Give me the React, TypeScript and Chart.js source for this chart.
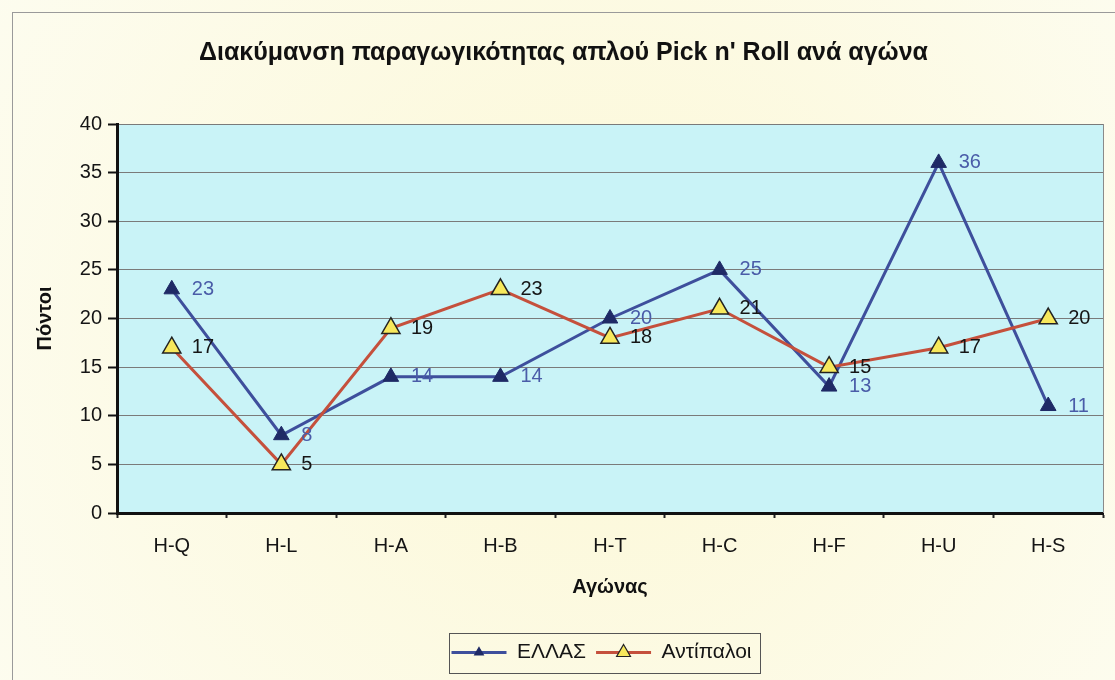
import { useEffect, useRef } from "react";
import { Chart, registerables } from "chart.js";

Chart.register(...registerables);

const categories = ["H-Q", "H-L", "H-A", "H-B", "H-T", "H-C", "H-F", "H-U", "H-S"];
const ellasValues = [23, 8, 14, 14, 20, 25, 13, 36, 11];
const opponentValues = [17, 5, 19, 23, 18, 21, 15, 17, 20];
const seriesNames = ["ΕΛΛΑΣ", "Αντίπαλοι"];
const yMin = 0;
const yMax = 40;
const yStep = 5;
const chartTitle = "Διακύμανση παραγωγικότητας απλού Pick n' Roll ανά αγώνα";
const xTitle = "Αγώνας";
const yTitle = "Πόντοι";

const FONT = "Arial, 'Liberation Sans', sans-serif";
const BLUE_LINE = "#3e4f9c";
const BLUE_MARK = "#1f2a66";
const BLUE_LABEL = "#4a5ca8";
const RED_LINE = "#c5503c";
const YELLOW = "#f7e85c";
const LEGEND_LINE = 55;

const backgroundPlugin = {
  id: "bgPlugin",
  afterLayout(chart: any) {
    const lg = chart.legend;
    if (lg) {
      lg.left += 38;
      lg.right += 38;
    }
  },
  beforeDraw(chart: any) {
    const { ctx, width, height, chartArea } = chart;
    ctx.save();
    const g = ctx.createRadialGradient(width * 0.55, height * 0.5, 50, width * 0.5, height * 0.5, width * 0.7);
    g.addColorStop(0, "#fcf8d8");
    g.addColorStop(1, "#fdfdf3");
    ctx.fillStyle = g;
    ctx.fillRect(0, 0, width, height);
    ctx.strokeStyle = "#9a9a9a";
    ctx.lineWidth = 1;
    ctx.strokeRect(12.5, 12.5, width + 20, height + 20);
    ctx.fillStyle = "#c9f3f7";
    ctx.fillRect(chartArea.left, chartArea.top, chartArea.right - chartArea.left, chartArea.bottom - chartArea.top);
    ctx.restore();
  },
  beforeDatasetsDraw(chart: any) {
    const { ctx, chartArea } = chart;
    ctx.save();
    ctx.strokeStyle = "#8a8a8a";
    ctx.lineWidth = 1;
    ctx.beginPath();
    ctx.moveTo(chartArea.right + 0.5, chartArea.top);
    ctx.lineTo(chartArea.right + 0.5, chartArea.bottom);
    ctx.stroke();
    ctx.restore();
  },
  afterDatasetsDraw(chart: any) {
    const { ctx } = chart;
    ctx.save();
    ctx.font = "20px " + FONT;
    ctx.textAlign = "left";
    ctx.textBaseline = "middle";
    chart.data.datasets.forEach((ds: any, i: number) => {
      const meta = chart.getDatasetMeta(i);
      ctx.fillStyle = i === 0 ? BLUE_LABEL : "#151515";
      meta.data.forEach((pt: any, j: number) => {
        ctx.fillText(String(ds.data[j]), pt.x + 20, pt.y);
      });
    });
    ctx.restore();
  },
  afterDraw(chart: any) {
    const { ctx } = chart;
    const legend = chart.legend;
    if (!legend || !legend.legendHitBoxes || !legend.legendHitBoxes.length) return;
    const boxes = legend.legendHitBoxes;
    ctx.save();
    boxes.forEach((hb: any, i: number) => {
      const cx = hb.left + LEGEND_LINE / 2;
      const cy = hb.top + 10.5;
      const r = i === 0 ? 5 : 8;
      ctx.beginPath();
      ctx.moveTo(cx, cy - r);
      ctx.lineTo(cx + r * 0.866, cy + r * 0.5);
      ctx.lineTo(cx - r * 0.866, cy + r * 0.5);
      ctx.closePath();
      ctx.fillStyle = i === 0 ? BLUE_MARK : YELLOW;
      ctx.fill();
      ctx.lineWidth = 1.2;
      ctx.strokeStyle = i === 0 ? BLUE_MARK : "#222";
      ctx.stroke();
    });
    const first = boxes[0];
    const last = boxes[boxes.length - 1];
    const left = first.left - 3;
    const right = last.left + last.width + 8;
    const top = first.top - 9;
    const bottom = first.top + 31;
    ctx.strokeStyle = "#555";
    ctx.lineWidth = 1;
    ctx.strokeRect(Math.round(left) + 0.5, Math.round(top) + 0.5, Math.round(right - left), Math.round(bottom - top));
    ctx.restore();
  },
};

export default function App() {
  const canvasRef = useRef<HTMLCanvasElement | null>(null);

  useEffect(() => {
    document.body.style.margin = "0";
    const canvas = canvasRef.current;
    if (!canvas) return;
    const chart = new Chart(canvas, {
      type: "line",
      data: {
        labels: categories,
        datasets: [
          {
            label: seriesNames[0],
            data: ellasValues,
            borderColor: BLUE_LINE,
            borderWidth: 3,
            pointStyle: "triangle",
            pointRadius: 9,
            pointBackgroundColor: BLUE_MARK,
            pointBorderColor: BLUE_MARK,
            pointBorderWidth: 1,
            tension: 0,
            order: 1,
          },
          {
            label: seriesNames[1],
            data: opponentValues,
            borderColor: RED_LINE,
            borderWidth: 3,
            pointStyle: "triangle",
            pointRadius: 10.5,
            pointBackgroundColor: YELLOW,
            pointBorderColor: "#222",
            pointBorderWidth: 1.5,
            tension: 0,
            order: 0,
          },
        ],
      },
      plugins: [backgroundPlugin],
      options: {
        responsive: false,
        animation: false,
        events: [],
        layout: { padding: { left: 20, right: 8, top: 0, bottom: 7 } },
        plugins: {
          tooltip: { enabled: false },
          title: {
            display: true,
            text: chartTitle,
            color: "#111",
            font: { family: FONT, size: 25, weight: "bold" },
            padding: { top: 38, bottom: 56 },
          },
          legend: {
            display: true,
            position: "bottom",
            labels: {
              usePointStyle: true,
              pointStyle: "line",
              pointStyleWidth: LEGEND_LINE,
              color: "#151515",
              font: { family: FONT, size: 21 },
              padding: 10,
              sort: (a: any, b: any) => a.datasetIndex - b.datasetIndex,
              generateLabels: (chart: any) => {
                const items = (Chart as any).defaults.plugins.legend.labels.generateLabels(chart);
                return items.map((it: any) => {
                  const ds = chart.data.datasets[it.datasetIndex];
                  return { ...it, strokeStyle: ds.borderColor, fillStyle: ds.borderColor, lineWidth: 3, pointStyle: "line" };
                });
              },
            },
          },
        },
        scales: {
          x: {
            type: "category",
            offset: true,
            grid: {
              display: true,
              drawOnChartArea: false,
              drawTicks: true,
              tickLength: 5,
              offset: true,
              tickColor: "#222",
              tickWidth: 2,
            },
            border: { display: true, color: "#111", width: 3 },
            ticks: { color: "#151515", font: { family: FONT, size: 20 }, padding: 16, maxRotation: 0, autoSkip: false },
            title: {
              display: true,
              text: xTitle,
              color: "#111",
              font: { family: FONT, size: 20, weight: "bold" },
              padding: { top: 0, bottom: 33 },
            },
            afterFit(scale: any) {
              scale.height = 119;
            },
          },
          y: {
            min: yMin,
            max: yMax,
            ticks: { stepSize: yStep, color: "#151515", font: { family: FONT, size: 20 }, padding: 6 },
            grid: { color: "#7a7a7a", lineWidth: 1, tickColor: "#111", tickLength: 9, tickWidth: 2 },
            border: { display: true, color: "#111", width: 3 },
            title: {
              display: true,
              text: yTitle,
              color: "#111",
              font: { family: FONT, size: 20, weight: "bold" },
              padding: { top: 13, bottom: 0 },
            },
            afterFit(scale: any) {
              scale.width = 97;
            },
          },
        },
      },
    } as any);
    return () => chart.destroy();
  }, []);

  return (
    <div style={{ position: "absolute", left: 0, top: 0, width: 1115, height: 680 }}>
      <canvas ref={canvasRef} width={1115} height={680} style={{ display: "block", width: 1115, height: 680 }} />
    </div>
  );
}
